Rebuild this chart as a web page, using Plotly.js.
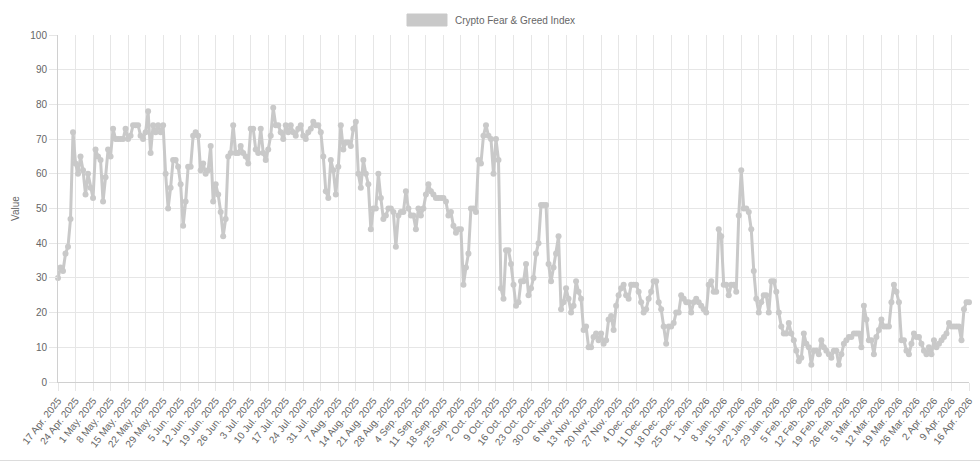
<!DOCTYPE html>
<html>
<head>
<meta charset="utf-8">
<script src="https://cdn.plot.ly/plotly-3.0.1.min.js"></script>
<style>
  body { margin: 0; background: #fff; }
  #chart { width: 980px; height: 460px; }
  .rule { width: 980px; height: 0; border-top: 1px solid #dcdcdc; }
</style>
</head>
<body>
<div id="chart"></div>
<div class="rule"></div>
<script>
// daily index values, 17 Apr 2025 .. 16 Apr 2026
const startDate = '2025-04-17';
const apr25 = [30,33,32,37,39,47,72,63,60,65,61,54,60,56];
const may25 = [53,67,65,64,52,59,67,65,73,70,70,70,70,73,70,71,74,74,74,71,70,72,78,66,74,72,74,72,74,60,50];
const jun25 = [56,64,64,62,57,45,52,62,62,71,72,71,61,63,60,61,68,52,57,54,49,42,47,65,66,74,66,66,68,66];
const jul25 = [65,63,73,73,67,66,73,66,64,67,71,79,74,74,72,70,74,72,74,72,71,73,74,71,70,72,73,75,74,74,72];
const aug25 = [65,55,53,64,61,54,62,74,67,69,69,68,73,75,60,56,64,60,57,44,50,50,60,53,47,48,50,50,49,39,48];
const sep25 = [49,49,55,50,48,48,44,50,48,50,54,57,55,54,53,53,53,53,52,48,49,45,43,44,44,28,33,37,50,50];
const oct25 = [49,64,63,71,74,71,70,60,70,64,27,24,38,38,34,28,22,23,29,29,34,25,27,30,37,40,51,51,51,34,29];
const nov25 = [33,37,42,21,23,27,24,20,22,29,26,24,15,16,10,10,13,14,12,14,11,12,18,19,15,22,25,27,28,25];
const dec25 = [24,28,28,28,26,23,20,21,24,26,29,29,23,21,16,11,16,16,17,20,20,25,24,23,23,20,23,24,23,22,21];
const jan26 = [20,28,29,26,26,44,42,28,28,25,28,28,26,48,61,50,50,49,44,32,24,20,23,25,25,20,29,29,26,20,16];
const feb26 = [14,14,17,14,12,9,6,7,14,11,10,5,9,9,8,12,10,9,8,7,9,9,5,8,11,12,13,13];
const mar26 = [14,14,14,10,22,18,12,12,8,13,15,18,16,16,16,23,28,26,23,12,12,9,8,11,14,13,13,11,9,8,10];
const apr26 = [8,12,10,11,12,13,14,17,16,16,16,16,12,21,23,23];

const seriesName = 'Crypto Fear & Greed Index';
const values = [].concat(apr25, may25, jun25, jul25, aug25, sep25, oct25, nov25, dec25, jan26, feb26, mar26, apr26);

const dates = values.map(function (v, i) {
  const d = new Date(startDate + 'T00:00:00Z');
  d.setUTCDate(d.getUTCDate() + i);
  return d.toISOString().slice(0, 10);
});

const grey = '#c9c9c9';
const textGrey = '#666';
const gridGrey = '#e6e6e6';
const font = 'Liberation Sans, Arial, Helvetica, sans-serif';

const trace = {
  x: dates,
  y: values,
  type: 'scatter',
  mode: 'lines+markers',
  name: seriesName,
  line: { color: grey, width: 3 },
  marker: { color: grey, size: 6 },
  cliponaxis: false,
  hoverinfo: 'skip'
};

const layout = {
  width: 980,
  height: 460,
  margin: { l: 58, r: 11, t: 35, b: 78 },
  paper_bgcolor: '#fff',
  plot_bgcolor: '#fff',
  font: { family: font, size: 10, color: textGrey },
  showlegend: false,
  xaxis: {
    type: 'date',
    range: [dates[0], dates[dates.length - 1]],
    tick0: startDate,
    dtick: 7 * 86400000,
    tickformat: '%-d %b. %Y',
    tickangle: -52,
    tickfont: { size: 10, color: textGrey },
    showgrid: true,
    gridcolor: gridGrey,
    ticks: 'outside',
    ticklen: 8,
    tickcolor: gridGrey,
    showline: true,
    linecolor: '#d0d0d0',
    zeroline: false,
    fixedrange: true
  },
  yaxis: {
    range: [0, 100],
    tick0: 0,
    dtick: 10,
    tickfont: { size: 10, color: textGrey },
    showgrid: true,
    gridcolor: gridGrey,
    ticks: 'outside',
    ticklen: 8,
    tickcolor: gridGrey,
    showline: true,
    linecolor: '#d0d0d0',
    zeroline: false,
    fixedrange: true,
    title: { text: 'Value', font: { size: 10, color: textGrey }, standoff: 8 }
  },
  shapes: [{
    type: 'rect', xref: 'paper', yref: 'paper',
    x0: 0.3831, x1: 0.4270, y0: 1.0259, y1: 1.0605,
    fillcolor: grey, line: { color: grey, width: 1 }
  }],
  annotations: [{
    text: seriesName, xref: 'paper', yref: 'paper',
    x: 0.4336, y: 1.0432, xanchor: 'left', yanchor: 'middle',
    showarrow: false, font: { size: 10, color: textGrey }
  }]
};

Plotly.newPlot('chart', [trace], layout, { displayModeBar: false, staticPlot: true });
</script>
</body>
</html>
